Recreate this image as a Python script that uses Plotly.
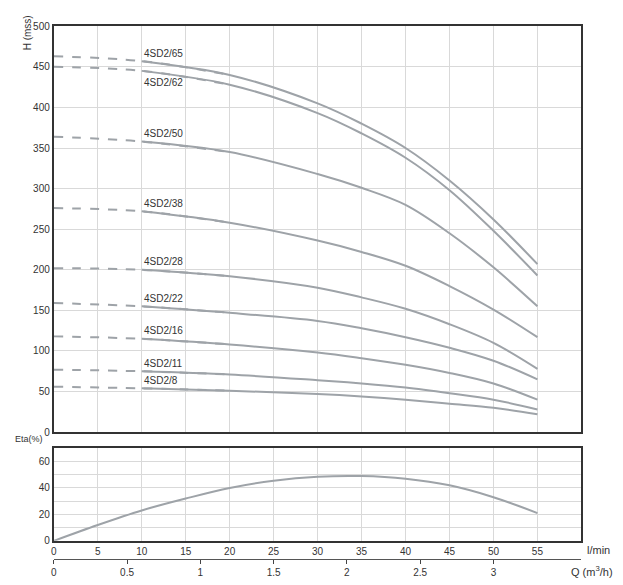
import plotly.graph_objects as go

Q = [0, 10, 20, 30, 35, 40, 45, 50, 55]
names = ["4SD2/65", "4SD2/62", "4SD2/50", "4SD2/38", "4SD2/28", "4SD2/22", "4SD2/16", "4SD2/11", "4SD2/8"]
H = [
    [463, 457, 440, 405, 380, 350, 310, 262, 207],
    [450, 445, 428, 393, 368, 338, 298, 248, 193],
    [364, 358, 345, 318, 301, 280, 245, 203, 155],
    [276, 272, 258, 236, 222, 205, 180, 151, 117],
    [202, 200, 192, 178, 166, 152, 133, 110, 78],
    [159, 155, 147, 137, 128, 117, 104, 88, 65],
    [118, 115, 108, 98, 91, 83, 73, 60, 40],
    [77, 75, 71, 64, 60, 55, 48, 40, 28],
    [56, 54, 51, 47, 44, 40, 35, 30, 22],
]
label_offset = [8, -12, 8, 8, 8, 8, 8, 8, 8]
Qe = [0, 5, 10, 15, 20, 25, 30, 35, 40, 45, 50, 55]
Eta = [0, 12, 23, 32, 40, 45.5, 48.5, 49, 47, 42, 33, 21]

col = "#9ea3a8"
fig = go.Figure()
for n, h, off in zip(names, H, label_offset):
    fig.add_trace(go.Scatter(x=Q[:3], y=h[:3], mode="lines", line=dict(color=col, width=2, dash="dash", shape="spline"),
                             xaxis="x", yaxis="y", showlegend=False, hoverinfo="skip"))
    fig.add_trace(go.Scatter(x=Q[1:], y=h[1:], mode="lines", line=dict(color=col, width=2, shape="spline"),
                             xaxis="x", yaxis="y", showlegend=False))
    fig.add_annotation(x=10, y=h[1], xref="x", yref="y", text=n, showarrow=False, xanchor="left",
                       yshift=off, font=dict(size=10, color="#333"))
fig.add_trace(go.Scatter(x=Qe, y=Eta, mode="lines", line=dict(color=col, width=2, shape="spline"),
                         xaxis="x2", yaxis="y2", showlegend=False))

ax = dict(showline=True, linecolor="#333", linewidth=2, mirror=True, gridcolor="#d9d9d9",
          tickfont=dict(size=10, color="#333"), zeroline=False, ticks="")
fig.update_layout(
    width=623, height=585, plot_bgcolor="white", paper_bgcolor="white",
    margin=dict(l=0, r=0, t=0, b=0),
    xaxis=dict(ax, domain=[0.069, 0.92], range=[0, 60], dtick=5, showticklabels=False, anchor="y"),
    yaxis=dict(ax, domain=[0.271, 0.977], range=[0, 500], dtick=50),
    xaxis2=dict(ax, domain=[0.069, 0.92], range=[0, 60], dtick=5, tickvals=list(range(0, 56, 5)), anchor="y2"),
    yaxis2=dict(ax, domain=[0.082, 0.243], range=[0, 70], dtick=10, tickvals=[0,10,20,30,40,50,60],
                ticktext=["0","","20","","40","","60"]),
    xaxis3=dict(domain=[0.069, 0.92], range=[0, 3.6], tickvals=[0, 0.5, 1, 1.5, 2, 2.5, 3],
                ticktext=["0","0.5","1","1.5","2","2.5","3"], overlaying="x2", anchor="free", position=0.05,
                showline=True, linecolor="#555", linewidth=1, ticks="outside", ticklen=4, showgrid=False,
                tickfont=dict(size=10, color="#333"), zeroline=False),
    font=dict(family="Liberation Sans"),
)
fig.add_trace(go.Scatter(x=[0], y=[None], xaxis="x3", yaxis="y2", showlegend=False))
fig.add_annotation(text="H (mss)", xref="paper", yref="paper", x=0.015, y=1.0, textangle=-90,
                   showarrow=False, font=dict(size=10, color="#333"), yanchor="top")
fig.add_annotation(text="Eta(%)", xref="paper", yref="paper", x=0.055, y=0.247, showarrow=False,
                   font=dict(size=9, color="#333"), xanchor="right", yanchor="bottom")
fig.add_annotation(text="l/min", xref="paper", yref="paper", x=0.925, y=0.08, showarrow=False,
                   font=dict(size=11, color="#333"), xanchor="left", yanchor="top")
fig.add_annotation(text="Q (m<sup>3</sup>/h)", xref="paper", yref="paper", x=0.9, y=0.03, showarrow=False,
                   font=dict(size=11, color="#333"), xanchor="left", yanchor="middle")
fig.write_html("out.html")
